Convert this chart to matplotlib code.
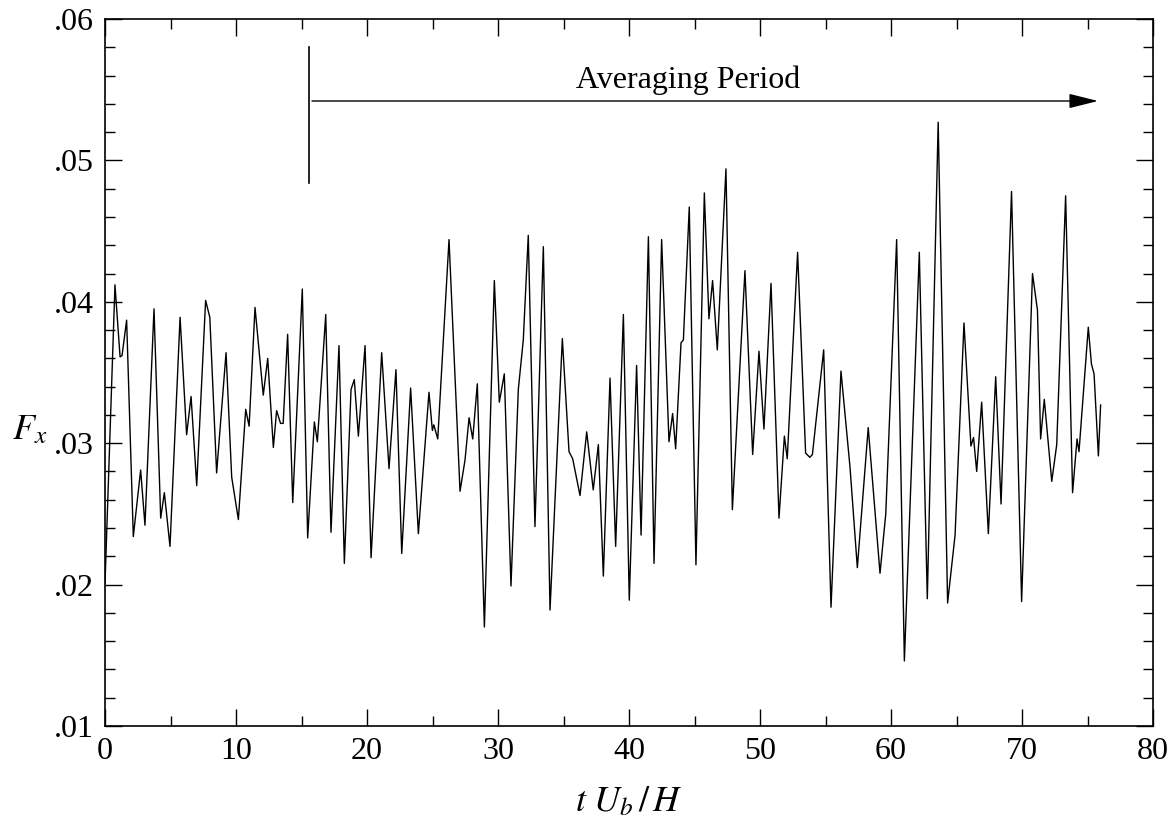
import numpy as np
import matplotlib
matplotlib.use("Agg")
import matplotlib.pyplot as plt
from matplotlib.ticker import MultipleLocator

plt.rcParams['font.family'] = ['Liberation Serif', 'DejaVu Serif']
plt.rcParams['mathtext.fontset'] = 'stix'

# time history (t U_b / H, F_x)
t = [0.0, 0.76, 1.15, 1.3, 1.65, 2.16, 2.72, 3.05, 3.74, 4.25, 4.53, 4.96,
     5.73, 6.23, 6.57, 7.0, 7.68, 8.0, 8.52, 9.24, 9.67, 10.18, 10.74, 11.0,
     11.45, 12.08, 12.42, 12.85, 13.1, 13.4, 13.6, 13.94, 14.33, 15.06, 15.47,
     15.98, 16.21, 16.85, 17.25, 17.86, 18.27, 18.78, 19.03, 19.34, 19.85,
     20.31, 21.12, 21.68, 22.21, 22.65, 23.33, 23.92, 24.73, 24.99, 25.1,
     25.4, 26.26, 27.1, 27.48, 27.79, 28.07, 28.42, 28.96, 29.72, 30.1,
     30.48, 30.99, 31.55, 31.93, 32.31, 32.82, 33.46, 33.97, 34.91, 35.42,
     35.7, 36.26, 36.77, 37.27, 37.66, 38.04, 38.55, 38.98, 39.57, 40.02,
     40.58, 40.92, 41.48, 41.91, 42.49, 43.05, 43.33, 43.56, 43.97, 44.15,
     44.6, 45.11, 45.75, 46.1, 46.38, 46.74, 47.4, 47.89, 48.85, 49.44,
     49.92, 50.3, 50.84, 51.45, 51.86, 52.08, 52.87, 53.48, 53.8, 54.0,
     54.86, 55.42, 56.18, 56.87, 57.43, 58.26, 59.16, 59.6, 60.43, 61.02,
     62.16, 62.77, 63.6, 64.32, 64.89, 65.57, 66.1, 66.3, 66.54, 66.92,
     67.43, 67.99, 68.4, 69.2, 69.97, 70.8, 71.18, 71.42, 71.7, 72.27,
     72.65, 73.33, 73.86, 74.2, 74.35, 75.06, 75.3, 75.5, 75.83, 76.0]
fx = [0.0201, 0.0412, 0.0361, 0.0362, 0.0387, 0.0234, 0.0281, 0.0242, 0.0395,
      0.0247, 0.0265, 0.0227, 0.0389, 0.0306, 0.0333, 0.0270, 0.0401, 0.0389,
      0.0279, 0.0364, 0.0276, 0.0246, 0.0324, 0.0312, 0.0396, 0.0334, 0.0360,
      0.0297, 0.0323, 0.0314, 0.0314, 0.0377, 0.0258, 0.0409, 0.0233, 0.0315,
      0.0301, 0.0391, 0.0237, 0.0369, 0.0215, 0.0338, 0.0345, 0.0305, 0.0369,
      0.0219, 0.0364, 0.0282, 0.0352, 0.0222, 0.0339, 0.0236, 0.0336, 0.0309,
      0.0313, 0.0303, 0.0444, 0.0266, 0.0288, 0.0318, 0.0303, 0.0342, 0.0170,
      0.0415, 0.0329, 0.0349, 0.0199, 0.0338, 0.0373, 0.0447, 0.0241, 0.0439,
      0.0182, 0.0374, 0.0294, 0.0289, 0.0263, 0.0308, 0.0267, 0.0299, 0.0206,
      0.0346, 0.0227, 0.0391, 0.0189, 0.0355, 0.0235, 0.0446, 0.0215, 0.0444,
      0.0301, 0.0321, 0.0296, 0.0371, 0.0373, 0.0467, 0.0214, 0.0477, 0.0388,
      0.0415, 0.0366, 0.0494, 0.0253, 0.0422, 0.0292, 0.0365, 0.0310, 0.0413,
      0.0247, 0.0305, 0.0289, 0.0435, 0.0293, 0.0290, 0.0292, 0.0366, 0.0184,
      0.0351, 0.0283, 0.0212, 0.0311, 0.0208, 0.0250, 0.0444, 0.0146, 0.0435,
      0.0190, 0.0527, 0.0187, 0.0235, 0.0385, 0.0298, 0.0304, 0.0280, 0.0329,
      0.0236, 0.0347, 0.0257, 0.0478, 0.0188, 0.0420, 0.0394, 0.0303, 0.0331,
      0.0273, 0.0299, 0.0475, 0.0265, 0.0303, 0.0294, 0.0382, 0.0356, 0.0349,
      0.0291, 0.0327]

xticks = [0, 10, 20, 30, 40, 50, 60, 70, 80]
yticks = [0.01, 0.02, 0.03, 0.04, 0.05, 0.06]
ytick_labels = ['.01', '.02', '.03', '.04', '.05', '.06']

# averaging period marker
avg_start = 15.6
avg_end = 75.8

fig = plt.figure(figsize=(11.72, 8.22), dpi=100)
ax = fig.add_axes([0.0896, 0.1168, 0.8942, 0.8601])

ax.plot(t, fx, color='black', lw=1.0)

ax.plot([avg_start, avg_start], [0.0484, 0.0580], color='black', lw=1.2)
ax.annotate('', xy=(avg_end, 0.0542), xytext=(avg_start + 0.2, 0.0542),
            arrowprops=dict(arrowstyle='-|>,head_length=1.8,head_width=0.45',
                            color='black', lw=1.0, shrinkA=0, shrinkB=0))
ax.text(44.5, 0.0557, 'Averaging Period', fontsize=23, ha='center', va='center')

ax.set_xlim(0, 80)
ax.set_ylim(0.01, 0.06)
ax.set_xticks(xticks)
ax.set_yticks(yticks)
ax.set_yticklabels(ytick_labels)
ax.xaxis.set_minor_locator(MultipleLocator(5))
ax.yaxis.set_minor_locator(MultipleLocator(0.002))
ax.tick_params(which='both', direction='in', top=True, right=True,
               labelsize=23, width=1.0, pad=8)
ax.tick_params(which='major', length=12)
ax.tick_params(which='minor', length=7)
for s in ax.spines.values():
    s.set_linewidth(1.2)

ax.set_xlabel(r'$t\ U_b\,/\,H$', fontsize=26, labelpad=14)
ax.set_ylabel(r'$F_x$', fontsize=26, rotation=0, va='center', ha='center')
ax.yaxis.set_label_coords(-0.072, 0.418)

fig.savefig('out.png', dpi=100)
